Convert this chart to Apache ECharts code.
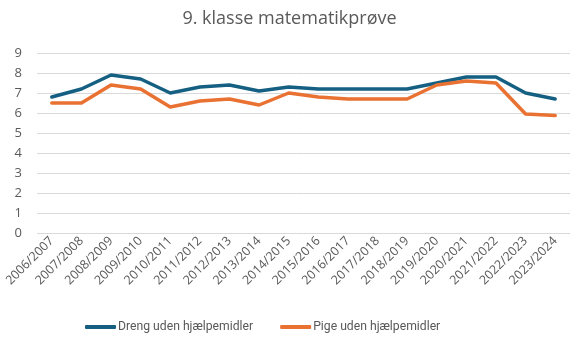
<!DOCTYPE html>
<html>
<head>
<meta charset="utf-8">
<script src="https://cdn.jsdelivr.net/npm/echarts@6/dist/echarts.min.js"></script>
<style>html,body{margin:0;padding:0;background:#fff}#c{width:579px;height:346px}</style>
</head>
<body>
<div id="c"></div>
<script>
const categories = ["2006/2007","2007/2008","2008/2009","2009/2010","2010/2011","2011/2012","2012/2013","2013/2014","2014/2015","2015/2016","2016/2017","2017/2018","2018/2019","2019/2020","2020/2021","2021/2022","2022/2023","2023/2024"];
const drengValues = [6.8,7.2,7.9,7.7,7.0,7.3,7.4,7.1,7.3,7.2,7.2,7.2,7.2,7.5,7.8,7.8,7.0,6.7];
const pigeValues = [6.5,6.5,7.4,7.2,6.3,6.6,6.7,6.4,7.0,6.8,6.7,6.7,6.7,7.4,7.6,7.5,5.95,5.87];
const seriesNames = ["Dreng uden hjælpemidler","Pige uden hjælpemidler"];
const titleText = "9. klasse matematikprøve";

const font = "'Open Sans', 'Liberation Sans', sans-serif";
const chart = echarts.init(document.getElementById('c'), null, {renderer:'canvas'});
chart.setOption({
  animation:false,
  backgroundColor:'#fff',
  title:{text:titleText,left:'center',top:5,textStyle:{fontFamily:font,fontSize:18,fontWeight:'normal',color:'#595959'}},
  grid:{left:37,right:9,top:53,bottom:113,containLabel:false},
  legend:{bottom:8,left:80,itemWidth:31,itemHeight:4,itemGap:27,icon:'roundRect',
    textStyle:{fontFamily:"Roboto, sans-serif",fontSize:12.2,color:'#595959',padding:[0,0,0,-3]},
    data:seriesNames},
  xAxis:{type:'category',data:categories,boundaryGap:true,
    axisLine:{show:false},axisTick:{show:false},
    axisLabel:{rotate:45,interval:0,fontFamily:font,fontSize:12.5,color:'#595959',margin:6}},
  yAxis:{type:'value',min:0,max:9,interval:1,
    axisLine:{show:false},axisTick:{show:false},
    splitLine:{lineStyle:{color:'#d9d9d9',width:1}},
    axisLabel:{fontFamily:font,fontSize:13,color:'#595959',margin:15}},
  series:[
    {name:seriesNames[0],type:'line',data:drengValues,symbol:'none',lineStyle:{color:'#156082',width:3.5,cap:'round',join:'round'},itemStyle:{color:'#156082'}},
    {name:seriesNames[1],type:'line',data:pigeValues,symbol:'none',lineStyle:{color:'#E97132',width:3.5,cap:'round',join:'round'},itemStyle:{color:'#E97132'}}
  ]
});
</script>
</body>
</html>
